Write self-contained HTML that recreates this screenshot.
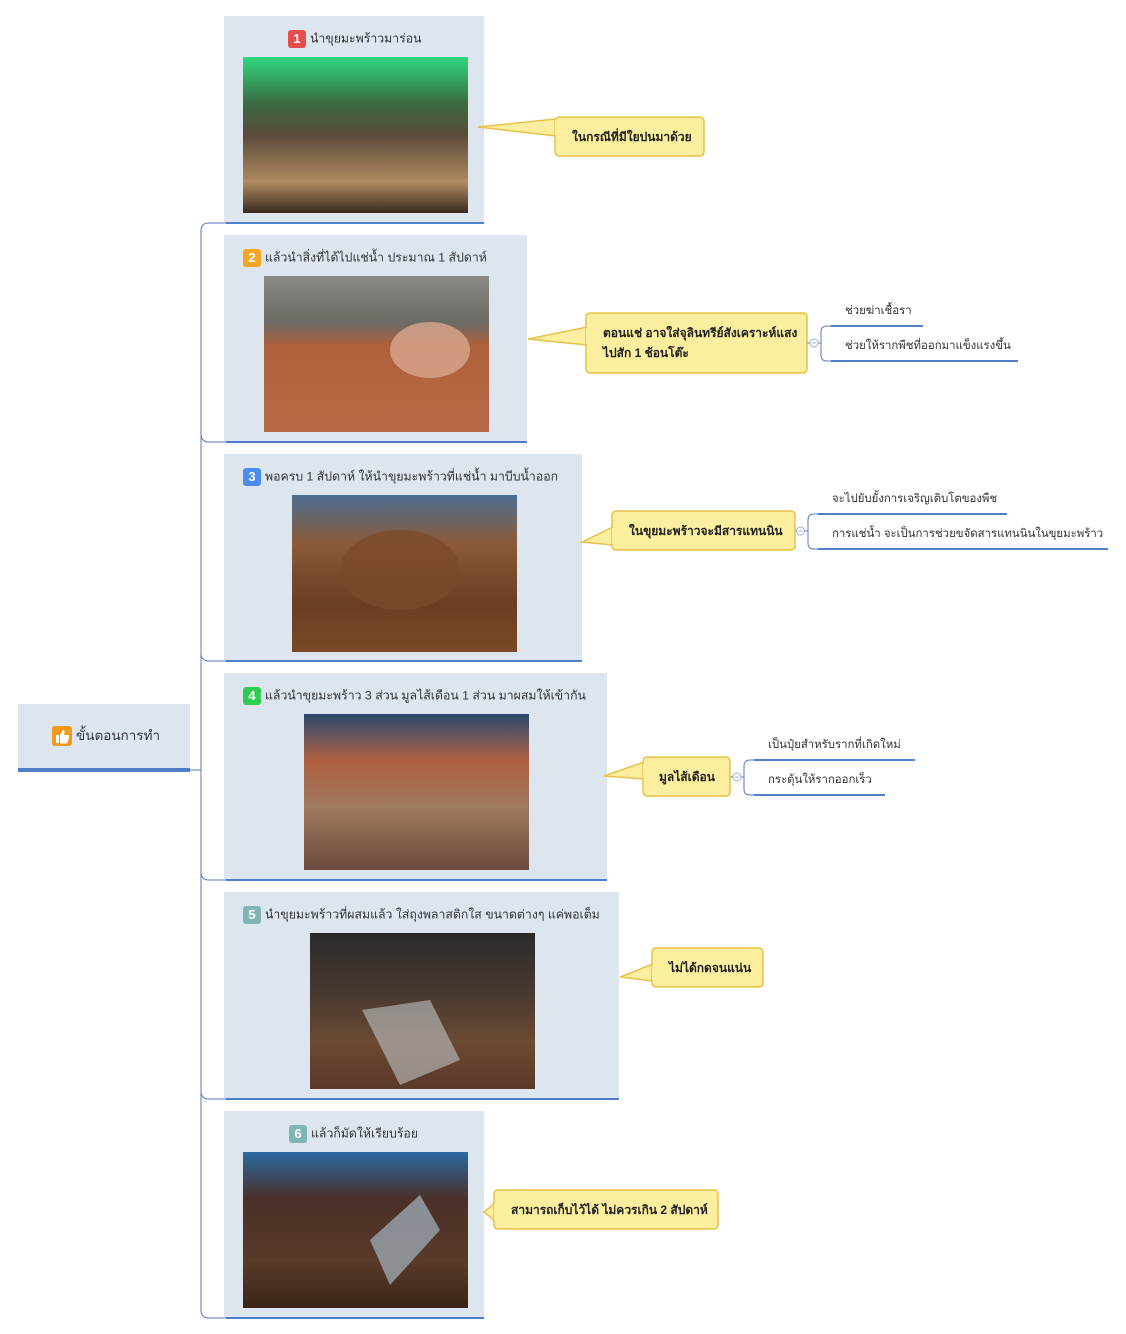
<!DOCTYPE html>
<html><head><meta charset="utf-8">
<style>
body{margin:0;width:1126px;height:1334px;background:#fff;position:relative;overflow:hidden;font-family:"Liberation Sans","DejaVu Sans",sans-serif;}
.t{position:absolute;font-size:12.3px;color:#333;white-space:nowrap;line-height:16px;}
.b{display:inline-block;width:18px;height:18px;border-radius:3px;color:#fff;font-weight:bold;text-align:center;line-height:18px;font-size:13px;margin-right:4px;vertical-align:middle}
.cb{position:absolute;font-size:12px;font-weight:bold;color:#222;white-space:nowrap;line-height:20px;}
.s{position:absolute;font-size:11.4px;color:#333;white-space:nowrap;line-height:16px;}
</style></head><body>
<svg width="1126" height="1334" style="position:absolute;left:0;top:0">
<defs>
<linearGradient id="g1" x1="0" y1="0" x2="0" y2="1"><stop offset="0" stop-color="#2fd880"/><stop offset="0.3" stop-color="#3a6a40"/><stop offset="0.5" stop-color="#5a4a3a"/><stop offset="0.8" stop-color="#b08a60"/><stop offset="1" stop-color="#3a2a20"/></linearGradient>
<linearGradient id="g2" x1="0" y1="0" x2="0" y2="1"><stop offset="0" stop-color="#8a8a86"/><stop offset="0.3" stop-color="#6d6a64"/><stop offset="0.45" stop-color="#b0603a"/><stop offset="1" stop-color="#b86a48"/></linearGradient>
<linearGradient id="g3" x1="0" y1="0" x2="0" y2="1"><stop offset="0" stop-color="#4a6e90"/><stop offset="0.3" stop-color="#8a5a3a"/><stop offset="0.7" stop-color="#6a3e22"/><stop offset="1" stop-color="#7a4a28"/></linearGradient>
<linearGradient id="g4" x1="0" y1="0" x2="0" y2="1"><stop offset="0" stop-color="#2a4a70"/><stop offset="0.3" stop-color="#b06040"/><stop offset="0.6" stop-color="#a07a60"/><stop offset="1" stop-color="#6a4a3a"/></linearGradient>
<linearGradient id="g5" x1="0" y1="0" x2="0" y2="1"><stop offset="0" stop-color="#2a2a2a"/><stop offset="0.4" stop-color="#4a3a30"/><stop offset="0.7" stop-color="#6a4a32"/><stop offset="1" stop-color="#5a3a28"/></linearGradient>
<linearGradient id="g6" x1="0" y1="0" x2="0" y2="1"><stop offset="0" stop-color="#2a6aa0"/><stop offset="0.3" stop-color="#4a3028"/><stop offset="0.7" stop-color="#5a3a28"/><stop offset="1" stop-color="#3a2418"/></linearGradient>
</defs>
<g fill="#dde5ef">
<rect x="18" y="704" width="172" height="66"/>
<rect x="224" y="16" width="260" height="207"/>
<rect x="224" y="235" width="303" height="207"/>
<rect x="224" y="454" width="358" height="207"/>
<rect x="224" y="673" width="383" height="207"/>
<rect x="224" y="892" width="395" height="207"/>
<rect x="224" y="1111" width="260" height="207"/>
</g>
<rect x="243" y="57" width="225" height="156" fill="url(#g1)"/>
<rect x="264" y="276" width="225" height="156" fill="url(#g2)"/>
<rect x="292" y="495" width="225" height="157" fill="url(#g3)"/>
<rect x="304" y="714" width="225" height="156" fill="url(#g4)"/>
<rect x="310" y="933" width="225" height="156" fill="url(#g5)"/>
<rect x="243" y="1152" width="225" height="156" fill="url(#g6)"/>
<ellipse cx="430" cy="350" rx="40" ry="28" fill="#d8a890" opacity="0.8"/>
<ellipse cx="400" cy="570" rx="60" ry="40" fill="#7a4a2c" opacity="0.8"/>
<polygon points="370,1240 420,1195 440,1230 390,1285" fill="#9aa6b0" opacity="0.8"/>
<polygon points="362,1010 430,1000 460,1060 400,1085" fill="#c0c4c8" opacity="0.6"/>
<rect x="18" y="768" width="172" height="4" fill="#4f7fc8"/>
<g stroke="#4f7fc8" stroke-width="2" fill="none">
<line x1="226" y1="223" x2="484" y2="223"/>
<line x1="226" y1="442" x2="527" y2="442"/>
<line x1="226" y1="661" x2="582" y2="661"/>
<line x1="226" y1="880" x2="607" y2="880"/>
<line x1="226" y1="1099" x2="619" y2="1099"/>
<line x1="226" y1="1318" x2="484" y2="1318"/>
<line x1="831" y1="326" x2="923" y2="326"/>
<line x1="831" y1="361" x2="1018" y2="361"/>
<line x1="818" y1="514" x2="1007" y2="514"/>
<line x1="818" y1="549" x2="1108" y2="549"/>
<line x1="754" y1="760" x2="915" y2="760"/>
<line x1="754" y1="795" x2="885" y2="795"/>
</g>
<g stroke="#5a78c0" stroke-width="1" fill="none">
<path d="M226,223 H209 Q201,223 201,231 V1310 Q201,1318 209,1318 H226"/>
<path d="M201,434 Q201,442 209,442 H226 M201,653 Q201,661 209,661 H226 M201,872 Q201,880 209,880 H226 M201,1091 Q201,1099 209,1099 H226"/>
<line x1="190" y1="770" x2="201" y2="770"/>
<path d="M831,326 H827 Q821,326 821,332 V355 Q821,361 827,361 H831"/>
<path d="M818,514 H814 Q808,514 808,520 V543 Q808,549 814,549 H818"/>
<path d="M754,760 H750 Q744,760 744,766 V789 Q744,795 750,795 H754"/>
<line x1="807" y1="343" x2="810" y2="343"/><line x1="818" y1="343" x2="821" y2="343"/>
<line x1="795" y1="531" x2="797" y2="531"/><line x1="804" y1="531" x2="808" y2="531"/>
<line x1="730" y1="777" x2="733" y2="777"/><line x1="741" y1="777" x2="744" y2="777"/>
</g>
<g fill="#fff" stroke="#9ab0d8" stroke-width="1">
<circle cx="814" cy="343" r="4"/><circle cx="800.5" cy="531" r="4"/><circle cx="737" cy="777" r="4"/>
</g>
<g stroke="#9ab0d8" stroke-width="1"><line x1="812" y1="343" x2="816" y2="343"/><line x1="798.5" y1="531" x2="802.5" y2="531"/><line x1="735" y1="777" x2="739" y2="777"/></g>
<g fill="#fbee9e" stroke="#e6c24a" stroke-width="1.5">
<polygon points="478,127 556,119 556,136"/><rect x="555" y="117" width="149" height="39" rx="4"/>
<polygon points="528,339 587,327 587,345"/><rect x="586" y="313" width="221" height="60" rx="4"/>
<polygon points="582,542 613,527 613,545"/><rect x="612" y="511" width="183" height="39" rx="4"/>
<polygon points="604,776 644,762 644,779"/><rect x="643" y="757" width="87" height="39" rx="4"/>
<polygon points="620,977 653,964 653,981"/><rect x="652" y="948" width="111" height="39" rx="4"/>
<polygon points="484,1212 495,1203 495,1221"/><rect x="494" y="1190" width="224" height="39" rx="4"/>
</g>
<g fill="#fbee9e">
<rect x="555" y="120" width="3" height="15"/><rect x="586" y="328" width="3" height="16"/>
<rect x="612" y="528" width="3" height="16"/><rect x="643" y="763" width="3" height="15"/>
<rect x="652" y="965" width="3" height="15"/><rect x="494" y="1204" width="3" height="16"/>
</g>
<rect x="52" y="726" width="20" height="20" rx="3" fill="#f39a1a"/>
<path d="M56,735 h3 v8 h-3z M60,735 l3,-5 q2,0 1.5,3 l-0.5,2 h4 q1.5,0 1.2,1.5 l-1.5,6 q-0.4,1 -1.4,1 h-6.3z" fill="#fff"/>
</svg>
<div class="t" style="left:76px;top:728px;font-size:13.5px;color:#334">ขั้นตอนการทำ</div>
<div class="t" style="left:288px;top:30px;"><span class="b" style="background:#e84c4c">1</span>นำขุยมะพร้าวมาร่อน</div>
<div class="t" style="left:243px;top:249px;"><span class="b" style="background:#f5a623">2</span>แล้วนำสิ่งที่ได้ไปแช่น้ำ ประมาณ 1 สัปดาห์</div>
<div class="t" style="left:243px;top:468px;"><span class="b" style="background:#4a8cf0">3</span>พอครบ 1 สัปดาห์ ให้นำขุยมะพร้าวที่แช่น้ำ มาบีบน้ำออก</div>
<div class="t" style="left:243px;top:687px;"><span class="b" style="background:#2ecc52">4</span>แล้วนำขุยมะพร้าว 3 ส่วน มูลไส้เดือน 1 ส่วน มาผสมให้เข้ากัน</div>
<div class="t" style="left:243px;top:906px;"><span class="b" style="background:#7fb5b5">5</span>นำขุยมะพร้าวที่ผสมแล้ว ใส่ถุงพลาสติกใส ขนาดต่างๆ แค่พอเต็ม</div>
<div class="t" style="left:289px;top:1125px;"><span class="b" style="background:#7fb5b5">6</span>แล้วก็มัดให้เรียบร้อย</div>
<div class="cb" style="left:572px;top:127px;">ในกรณีที่มีใยปนมาด้วย</div>
<div class="cb" style="left:603px;top:323px;">ตอนแช่ อาจใส่จุลินทรีย์สังเคราะห์แสง<br>ไปสัก 1 ช้อนโต๊ะ</div>
<div class="cb" style="left:629px;top:521px;">ในขุยมะพร้าวจะมีสารแทนนิน</div>
<div class="cb" style="left:659px;top:767px;">มูลไส้เดือน</div>
<div class="cb" style="left:669px;top:958px;">ไม่ได้กดจนแน่น</div>
<div class="cb" style="left:511px;top:1200px;">สามารถเก็บไว้ได้ ไม่ควรเกิน 2 สัปดาห์</div>
<div class="s" style="left:845px;top:303px;">ช่วยฆ่าเชื้อรา</div>
<div class="s" style="left:845px;top:338px;">ช่วยให้รากพืชที่ออกมาแข็งแรงขึ้น</div>
<div class="s" style="left:832px;top:491px;">จะไปยับยั้งการเจริญเติบโตของพืช</div>
<div class="s" style="left:832px;top:526px;">การแช่น้ำ จะเป็นการช่วยขจัดสารแทนนินในขุยมะพร้าว</div>
<div class="s" style="left:768px;top:737px;">เป็นปุ๋ยสำหรับรากที่เกิดใหม่</div>
<div class="s" style="left:768px;top:772px;">กระตุ้นให้รากออกเร็ว</div>
</body></html>
